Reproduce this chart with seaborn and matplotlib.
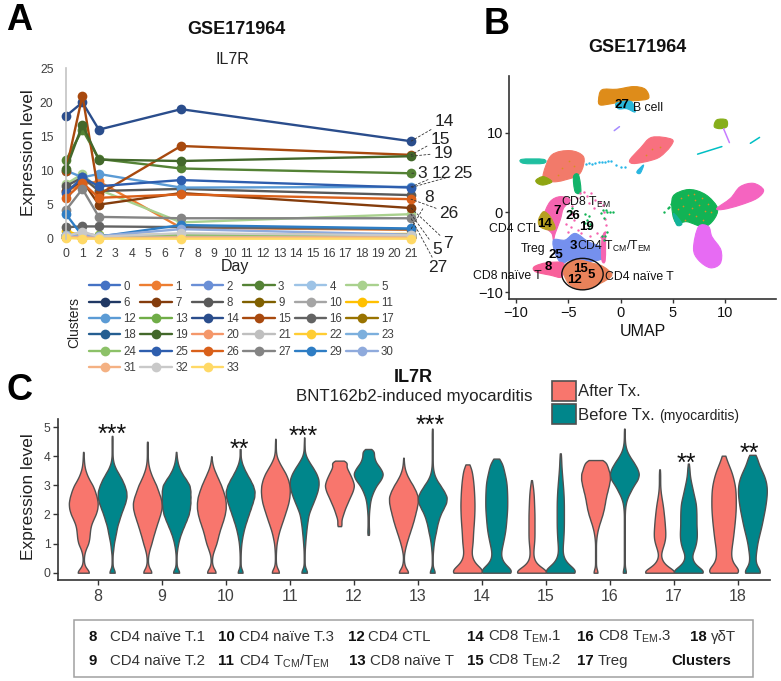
import numpy as np
import pandas as pd
import matplotlib
matplotlib.use("Agg")
import matplotlib.pyplot as plt
from matplotlib.patches import Ellipse, Patch, PathPatch
from matplotlib.path import Path
import seaborn as sns

sns.set_style("ticks")
plt.rcParams["font.family"] = ["Liberation Sans", "DejaVu Sans"]
plt.rcParams["mathtext.default"] = "regular"

W, H = 781, 681
GREY = "#404040"

# ---------- Panel A data ----------
days = [0, 1, 2, 7, 21]
il7r_0 = [0.4, 0.2, 0.3, 0.4, 0.4]
il7r_1 = [7.0, 8.0, 8.4, 1.6, 1.3]
il7r_2 = [0.3, 0.2, 0.2, 0.3, 0.3]
il7r_3 = [11.5, 16.0, 11.7, 10.3, 9.6]
il7r_4 = [0.3, 0.3, 0.2, 0.4, 0.4]
il7r_5 = [8.0, 9.5, 7.2, 2.4, 3.6]
il7r_6 = [0.2, 0.2, 0.2, 0.2, 0.2]
il7r_7 = [7.0, 8.5, 5.0, 6.7, 4.5]
il7r_8 = [7.7, 9.0, 7.0, 7.3, 6.4]
il7r_9 = [0.2, 0.1, 0.2, 0.2, 0.2]
il7r_10 = [0.5, 0.9, 0.4, 0.5, 0.5]
il7r_11 = [1.2, 0.3, 0.5, 0.6, 0.7]
il7r_12 = [10.0, 9.0, 9.5, 7.5, 7.6]
il7r_13 = [0.5, 0.3, 0.5, 0.5, 0.5]
il7r_14 = [18.0, 20.0, 16.0, 19.0, 14.3]
il7r_15 = [10.0, 21.0, 6.5, 13.6, 12.3]
il7r_16 = [1.7, 1.8, 1.8, 1.7, 1.4]
il7r_17 = [0.2, 0.2, 0.2, 0.2, 0.2]
il7r_18 = [0.3, 0.2, 0.2, 0.3, 0.3]
il7r_19 = [10.2, 16.7, 11.6, 11.4, 12.1]
il7r_20 = [0.2, 0.1, 0.1, 0.2, 0.2]
il7r_21 = [0.4, 0.3, 0.3, 0.5, 0.5]
il7r_22 = [0.3, 0.1, 0.2, 0.3, 0.3]
il7r_23 = [0.2, 0.2, 0.2, 0.3, 0.3]
il7r_24 = [0.6, 0.3, 0.4, 0.6, 0.5]
il7r_25 = [6.7, 9.0, 7.7, 8.6, 7.5]
il7r_26 = [6.0, 8.2, 6.0, 6.5, 5.8]
il7r_27 = [4.2, 7.3, 3.2, 3.0, 3.0]
il7r_29 = [3.6, 0.4, 0.3, 2.0, 1.5]
il7r_30 = [0.5, 0.4, 0.4, 1.4, 0.6]
il7r_31 = [0.2, 0.2, 0.1, 0.2, 0.2]
il7r_32 = [0.4, 1.0, 0.3, 0.8, 0.5]
il7r_33 = [0.1, 0.0, 0.0, 0.0, 0.0]

cluster_names = [str(i) for i in range(28)] + ["29", "30", "31", "32", "33"]
cluster_values = [il7r_0, il7r_1, il7r_2, il7r_3, il7r_4, il7r_5, il7r_6, il7r_7, il7r_8,
                  il7r_9, il7r_10, il7r_11, il7r_12, il7r_13, il7r_14, il7r_15, il7r_16,
                  il7r_17, il7r_18, il7r_19, il7r_20, il7r_21, il7r_22, il7r_23, il7r_24,
                  il7r_25, il7r_26, il7r_27, il7r_29, il7r_30, il7r_31, il7r_32, il7r_33]
cluster_colors = ["#4472C4", "#ED7D31", "#6A8FD6", "#548235", "#9DC3E6", "#A9D18E",
                  "#203864", "#843C0C", "#595959", "#7F6000", "#A5A5A5", "#FFC000",
                  "#5B9BD5", "#70AD47", "#2A4D8C", "#A8490E", "#636363", "#997300",
                  "#255E91", "#43682B", "#F4976A", "#BFBFBF", "#FFCD33", "#7CAFDD",
                  "#8CC168", "#2E5EAE", "#D9601A", "#848484", "#2E7DC4", "#8FAADC",
                  "#F4B183", "#C9C9C9", "#FFD966"]
day_ticks = list(range(22))

# reading order of the key, listed column by column
legend_order = ["0", "6", "12", "18", "24", "31",
                "1", "7", "13", "19", "25", "32",
                "2", "8", "14", "20", "26", "33",
                "3", "9", "15", "21", "27",
                "4", "10", "16", "22", "29",
                "5", "11", "17", "23", "30"]

end_labels = ["14", "15", "19", "3", "12", "25", "8", "26", "7", "5", "27"]
end_cluster = ["14", "15", "19", "3", "12", "25", "16", "26", "7", "5", "27"]
end_label_px = [(444, 122), (440, 139), (443, 153), (422, 173), (441, 174), (463, 173),
                (429, 198), (449, 213), (448, 243), (437, 250), (438, 268)]

# ---------- Panel B data ----------
b_cell_x = [-2.1, -1.78, -0.35, 1.24, 2.36, 2.68, 1.56, 0.29, -0.99, -1.94]
b_cell_y = [14.1, 15.36, 15.44, 15.77, 15.44, 14.31, 14.02, 13.9, 13.6, 13.47]
b_under_x = [-0.4, 1.0, 1.4, 0.6, -0.2]
b_under_y = [13.7, 13.9, 12.6, 13.0, 13.0]
olive_top_x = [8.95, 9.2, 10.1, 10.16, 9.5]
olive_top_y = [10.75, 11.6, 11.6, 10.75, 10.5]
mid_salmon_x = [0.92, 1.88, 2.99, 4.9, 4.75, 3.79, 2.83, 1.56, 0.99]
mid_salmon_y = [6.65, 8.03, 9.41, 9.16, 8.24, 6.99, 6.49, 6.15, 6.19]
mid_cyan_x = [1.56, 2.2, 1.88]
mid_cyan_y = [5.1, 5.94, 4.9]
left_salmon_x = [-7.36, -6.56, -4.81, -3.54, -3.69, -4.33, -6.08, -7.2]
left_salmon_y = [4.9, 7.2, 7.74, 6.99, 5.31, 4.48, 3.85, 4.06]
strip_x = [-9.43, -7.36, -7.36, -9.27]
strip_y = [6.65, 6.65, 6.15, 6.15]
left_olive_x = [-8.06, -7.36, -6.56, -7.36, -7.93]
left_olive_y = [4.06, 4.48, 3.85, 3.43, 3.64]
left_stem_x = [-4.49, -4.01, -3.79, -4.33]
left_stem_y = [4.48, 4.69, 2.59, 2.59]
green_x = [5.0, 6.17, 7.28, 8.39, 9.27, 8.88, 7.93, 6.34, 5.38, 4.97]
green_y = [1.97, 2.8, 2.72, 1.97, 0.5, -0.96, -1.8, -1.17, -1.38, -0.13]
green_teal_x = [5.06, 5.86, 5.38]
green_teal_y = [-0.13, -1.38, -1.59]
right_pink_x = [9.2, 10.5, 11.43, 12.7, 13.66, 13.03, 11.43, 9.84]
right_pink_y = [0.5, 1.76, 3.22, 3.64, 2.8, 1.76, 0.92, 0.38]
magenta_x = [7.45, 8.41, 8.73, 9.59, 9.52, 8.57, 7.45, 6.97]
magenta_y = [-1.8, -1.8, -3.05, -4.73, -6.4, -6.95, -5.98, -4.52]
crescent_x = [-7.36, -6.72, -5.76, -4.81, -5.45, -5.76, -6.24, -6.4, -6.56, -7.2]
crescent_y = [-0.54, 1.34, 1.97, 1.55, 0.5, -0.96, -2.64, -3.47, -2.64, -1.8]
ctl_x = [-7.83, -7.36, -6.72, -6.24, -6.88, -7.67]
ctl_y = [-0.96, 0.08, -0.54, -2.0, -2.2, -1.8]
tcm_x = [-6.4, -5.29, -4.33, -3.06, -1.62, -1.69, -3.22, -4.81, -5.6, -6.24]
tcm_y = [-3.47, -3.47, -2.64, -3.68, -4.52, -5.77, -6.19, -5.98, -6.4, -5.15]
ring_x = [-1.78, -1.46, -1.46, -1.78]
ring_y = [-3.47, -2.64, -5.98, -5.98]
naive8_x = [-8.25, -7.04, -5.45, -5.6, -6.72, -8.1]
naive8_y = [-6.82, -6.32, -6.4, -8.08, -7.87, -7.45]
naive4_x = [-5.45, -4.17, -2.58, -1.62, -0.83, -1.94, -3.54, -4.97]
naive4_y = [-6.82, -5.98, -6.4, -6.82, -7.87, -8.91, -9.67, -8.91]

blob_x = [b_cell_x, b_under_x, olive_top_x, mid_salmon_x, mid_cyan_x, left_salmon_x, strip_x,
          left_olive_x, left_stem_x, green_x, green_teal_x, right_pink_x, magenta_x, crescent_x,
          ctl_x, tcm_x, ring_x, naive8_x, naive4_x]
blob_y = [b_cell_y, b_under_y, olive_top_y, mid_salmon_y, mid_cyan_y, left_salmon_y, strip_y,
          left_olive_y, left_stem_y, green_y, green_teal_y, right_pink_y, magenta_y, crescent_y,
          ctl_y, tcm_y, ring_y, naive8_y, naive4_y]
blob_colors = ["#DE8C1A", "#29B6D8", "#86AE1A", "#F8707F", "#29B6E0", "#F27A6A", "#1FBFA0",
               "#8FA512", "#12B36A", "#12B355", "#12B39A", "#F564C0", "#E76BF3", "#F564B0",
               "#B79F20", "#7590EE", "#F564B0", "#F8609A", "#E9825A"]

thread_x = [[9.84, 10.4], [-0.6, -0.1], [7.36, 9.68], [12.4, 13.28]]
thread_y = [[10.5, 8.75], [10.25, 10.75], [7.3, 8.25], [8.66, 9.4]]
thread_colors = ["#C77CFF", "#A58AFF", "#00BFC4", "#00BFC4"]

pink_specks_x = [-5, -4.6, -4.2, -3.9, -3.5, -3.2, -2.8, -2.4, -2, -1.7, -1.6, -1.5, -1.4, -1.5,
                 -4.6, -4.4, -4.7, -4.1, -3.8, -2.9, -2.2, -1.9, -5.2, -5.0, -3.0, -2.5]
pink_specks_y = [1.2, 0.8, 1.8, 2.4, 2.6, 2.0, 2.4, 1.6, 1.3, 0.9, 0.1, -0.8, -1.6, -2.4,
                 -0.2, -1, -1.8, -2.2, -2.6, -2.9, -2.6, -3.1, -1.5, -2.4, 1.2, 0.6]
green_specks_x = [-1.6, -1.8, -1.3, -1.5, -1.7, -1.3, -1, -0.7, -1.9, -1.6, -3, -3.2, -3.4, -2.9,
                  -3.0, -3.4, -1.4, 4.5, 4.2, 4.8, 5.1, 4.6, -4.6, -4.8]
green_specks_y = [-3.5, -2.9, -2.5, -3, 0.3, 0.1, 0.1, 0, -0.1, -0.7, -0.4, -0.9, -1.3, -1.4,
                  -1.9, -0.2, 0.3, 0.5, 0.1, 1.0, 1.5, 0.7, 0.6, 0.2]
cyan_specks_x = [-3.3, -3, -2.7, -2.4, -2.1, -1.8, -1.5, -1.2, -0.9, -0.4, 0, 0.4]
cyan_specks_y = [6.1, 6.2, 6.1, 6.2, 6.3, 6.3, 6.3, 6.4, 6.4, 5.9, 5.7, 5.7]
orange_specks_x = [5.8, 6.4, 7.1, 7.8, 8.4, 6.0, 6.8, 7.5, 8.1, 6.5, 7.2, 7.9, 5.5, 7.0, 8.6, 6.2,
                   3.0, 2.4, 3.8, -5.6, -4.9, -4.4, -6.0]
orange_specks_y = [1.8, 2.2, 1.5, 1.8, 1.0, 0.8, 0.6, 0.9, 0.2, -0.2, -0.5, -0.9, 0.4, 2.3, 0.0, -0.9,
                   7.9, 7.2, 8.2, 5.6, 6.4, 5.8, 4.7]

umap_labels = ["27", "7", "26", "14", "19", "3", "25", "8", "15", "5", "12"]
umap_label_px = [(622, 105), (557, 211), (573, 216), (545, 224), (586, 227), (573, 246),
                 (556, 255), (548, 267), (580, 269), (591, 275), (574, 280)]
cell_labels = ["B cell", "CD8 T$_{EM}$", "CD4 CTL", "CD4 T$_{CM}$/T$_{EM}$", "Treg",
               "CD8 naïve T", "CD4 naïve T"]
cell_label_px = [(648, 108), (586, 202), (514, 229), (614, 246), (533, 249), (507, 276), (639, 277)]

# ---------- Panel C data (counts of cells at each expression level) ----------
levels = np.arange(0, 5.0, 0.2)
levels_after_12 = np.arange(1.6, 3.85, 0.1)
levels_before_12 = np.arange(1.3, 4.25, 0.1)
vio_clusters = ["8", "9", "10", "11", "12", "13", "14", "15", "16", "17", "18"]
after_8 = [55, 10, 3, 5, 15, 35, 42, 45, 50, 65, 85, 97, 100, 92, 80, 65, 40, 22, 10, 5, 3]
before_8 = [25, 3, 3, 3, 8, 12, 20, 28, 35, 48, 60, 75, 90, 100, 98, 85, 68, 45, 22, 8, 3, 3, 3, 3]
after_9 = [38, 8, 3, 6, 15, 28, 38, 50, 62, 75, 88, 98, 100, 90, 75, 62, 42, 25, 12, 5, 3, 3, 3]
before_9 = [28, 4, 3, 3, 7, 14, 24, 38, 55, 72, 88, 96, 100, 100, 100, 95, 70, 42, 22, 10, 4]
after_10 = [40, 9, 3, 7, 20, 35, 45, 55, 68, 82, 93, 100, 100, 95, 82, 68, 50, 32, 15, 5]
before_10 = [22, 3, 3, 3, 5, 8, 14, 22, 32, 45, 58, 72, 85, 97, 100, 88, 68, 45, 25, 10, 3, 3]
after_11 = [35, 6, 3, 3, 5, 8, 16, 25, 38, 52, 65, 78, 90, 97, 100, 98, 88, 72, 48, 25, 8, 3, 3]
before_11 = [28, 3, 3, 3, 4, 7, 10, 14, 18, 24, 30, 45, 62, 78, 92, 100, 100, 85, 62, 35, 12, 3, 3]
after_12 = [15, 14, 13, 18, 25, 31, 38, 46, 55, 63, 72, 81, 90, 95, 100, 94, 88, 79, 70, 60, 50, 45, 60]
before_12 = [5, 6, 5, 4, 4, 4, 4, 5, 6, 8, 10, 12, 16, 20, 28, 35, 45, 55, 70, 85, 93, 100, 90, 80,
             65, 50, 44, 38, 38, 40]
after_13 = [42, 10, 3, 3, 10, 20, 32, 45, 58, 70, 80, 90, 98, 100, 85, 65, 40, 20, 8, 3]
before_13 = [22, 3, 3, 3, 6, 10, 16, 25, 32, 42, 55, 75, 95, 100, 80, 55, 28, 12, 5, 3, 3, 3, 3, 3, 3]
after_14 = [100, 43, 25, 16, 18, 22, 23, 24, 26, 28, 29, 30, 30, 29, 28, 26, 24, 20, 17]
before_14 = [100, 45, 25, 18, 22, 28, 33, 38, 41, 43, 45, 47, 47, 47, 46, 45, 42, 36, 30, 26]
after_15 = [100, 38, 14, 8, 9, 12, 14, 14, 14, 14, 14, 13, 12, 11, 9, 6]
before_15 = [100, 42, 20, 10, 9, 11, 13, 14, 15, 15, 15, 15, 15, 14, 13, 11, 9, 7, 5, 4, 3]
after_16 = [18, 3, 3, 3, 3, 3, 6, 12, 22, 35, 48, 58, 65, 72, 82, 92, 100, 100, 85, 75]
before_16 = [14, 3, 3, 3, 3, 3, 3, 3, 3, 3, 3, 5, 10, 22, 42, 62, 90, 100, 85, 62, 35, 15, 6, 3, 3]
after_17 = [100, 38, 13, 5, 12, 22, 28, 28, 26, 24, 21, 18, 14, 9, 5, 3, 3, 3]
before_17 = [100, 42, 20, 15, 28, 36, 40, 40, 38, 38, 38, 37, 35, 28, 22, 16, 10, 6, 5]
after_18 = [100, 55, 38, 34, 36, 40, 44, 47, 50, 53, 55, 57, 57, 57, 56, 53, 47, 40, 30, 18, 8]
before_18 = [80, 30, 20, 22, 28, 33, 42, 52, 62, 70, 78, 86, 92, 97, 100, 98, 90, 75, 55, 38, 30]

after_ends = [[4.15], [4.5], [4.0], [4.6], [3.85], [3.95], [3.72], [3.18], [3.87], [3.55], [4.02]]
before_ends = [[4.7], [4.15], [4.25], [4.65], [4.25], [4.95], [3.92], [4.1], [4.95], [3.75], [4.05]]
after_counts = [after_8, after_9, after_10, after_11, after_12, after_13, after_14, after_15,
                after_16, after_17, after_18]
before_counts = [before_8, before_9, before_10, before_11, before_12, before_13, before_14,
                 before_15, before_16, before_17, before_18]
groups = ["After Tx.", "Before Tx."]
group_colors = ["#F8766D", "#00868B"]

star_text = ["***", "**", "***", "***", "**", "**"]
star_pos = [0.22, 2.21, 3.21, 5.2, 9.19, 10.18]
star_lev = [4.96, 4.47, 4.9, 5.27, 3.99, 4.31]

tbl_row1 = [(88.3, "8", True), (109.7, "CD4 naïve T.1", False), (217.7, "10", True),
            (239, "CD4 naïve T.3", False), (347.7, "12", True), (368, "CD4 CTL", False),
            (467.3, "14", True), (488, "CD8 T$_{EM}$.1", False), (577, "16", True),
            (598, "CD8 T$_{EM}$.3", False), (690, "18", True), (711, "γδT", False)]
tbl_row2 = [(88.3, "9", True), (109.7, "CD4 naïve T.2", False), (217.7, "11", True),
            (239, "CD4 T$_{CM}$/T$_{EM}$", False), (348.5, "13", True), (370, "CD8 naïve T", False),
            (467.3, "15", True), (488, "CD8 T$_{EM}$.2", False), (577, "17", True),
            (598, "Treg", False), (671, "Clusters", True)]


def box(l, t, r, b):
    return [l / W, 1 - b / H, (r - l) / W, (b - t) / H]


def ftext(x, y, s, **kw):
    kw.setdefault("ha", "center")
    kw.setdefault("va", "center")
    fig.text(x / W, 1 - y / H, s, **kw)


def smooth_blob(xs, ys):
    v = np.column_stack([xs, ys])
    n = len(v)
    verts, codes = [v[0]], [Path.MOVETO]
    for i in range(n):
        p0, p1, p2, p3 = v[i - 1], v[i], v[(i + 1) % n], v[(i + 2) % n]
        verts += [p1 + (p2 - p0) / 6, p2 - (p3 - p1) / 6, p2]
        codes += [Path.CURVE4] * 3
    return Path(verts, codes)


fig = plt.figure(figsize=(W / 100, H / 100), dpi=100)

# ---------- Panel A ----------
axA = fig.add_axes(box(66, 68.3, 411, 238.7))
dfA = pd.DataFrame({
    "day": np.tile(days, len(cluster_names)),
    "expr": np.concatenate(cluster_values),
    "cluster": np.repeat(cluster_names, len(days)),
})
sns.lineplot(data=dfA, x="day", y="expr", hue="cluster", hue_order=cluster_names,
             palette=cluster_colors, marker="o", markersize=7, markeredgewidth=0,
             linewidth=1.7, legend="full", ax=axA, errorbar=None)
for ln in axA.lines:
    ln.set_clip_on(False)
axA.set_xlim(0, 21)
axA.set_ylim(0, 25)
axA.set_xticks(day_ticks)
axA.set_yticks([0, 5, 10, 15, 20, 25])
axA.tick_params(length=0, labelsize=8.8, labelcolor=GREY, pad=7)
axA.tick_params(axis="y", pad=9)
for side in ["top", "right", "bottom"]:
    axA.spines[side].set_visible(False)
axA.spines["left"].set_color("#C4C4C4")
axA.spines["left"].set_linewidth(1.2)
axA.set_xlabel("")
axA.set_ylabel("")
handles, labels = axA.get_legend_handles_labels()
by_label = dict(zip(labels, handles))
axA.legend([by_label[k] for k in legend_order], legend_order, ncols=6, loc="upper left",
           bbox_to_anchor=(89 / W, 1 - 280.5 / H), bbox_transform=fig.transFigure, frameon=False,
           fontsize=8.3, handlelength=2.7, handletextpad=0.3, columnspacing=0.35, labelspacing=0.37,
           borderpad=0, borderaxespad=0, labelcolor=GREY)
for lab, cl, (px, py) in zip(end_labels, end_cluster, end_label_px):
    val = cluster_values[cluster_names.index(cl)][-1]
    axA.annotate(lab, xy=(21, val), xycoords="data", xytext=(px, H - py),
                 textcoords="figure pixels", ha="center", va="center", fontsize=12.5,
                 color="#222222", annotation_clip=False,
                 arrowprops=dict(arrowstyle="-", linestyle=(0, (2.5, 2.5)), linewidth=0.6,
                                 color="#333333", shrinkA=0, shrinkB=0))
ftext(28, 153, "Expression level", rotation=90, fontsize=12.5, color="#222222")
ftext(235, 267, "Day", fontsize=11.5, color="#222222")
ftext(74, 322, "Clusters", rotation=90, fontsize=10, color="#222222")
ftext(236, 30, "GSE171964", fontsize=13, fontweight="bold", color="#111111")
ftext(232, 59, "IL7R", fontsize=11.5, color="#222222")
ftext(19, 21, "A", fontsize=26, fontweight="bold", color="black")

# ---------- Panel B ----------
axB = fig.add_axes(box(509, 76, 776, 299.3))
for xs, ys, col in zip(blob_x, blob_y, blob_colors):
    axB.add_patch(PathPatch(smooth_blob(xs, ys), facecolor=col, edgecolor=col, lw=0.8, joinstyle="round"))
for xs, ys, col in zip(thread_x, thread_y, thread_colors):
    axB.plot(xs, ys, color=col, lw=1.1)
for xs, ys, col, size in [(pink_specks_x, pink_specks_y, "#F564B0", 3), (green_specks_x, green_specks_y, "#12B355", 3),
                          (cyan_specks_x, cyan_specks_y, "#29B6E8", 3), (orange_specks_x, orange_specks_y, "#D89020", 1.5)]:
    sns.scatterplot(x=xs, y=ys, color=col, s=size, linewidth=0, ax=axB)
axB.add_patch(Ellipse((-3.63, -7.74), 3.95, 3.95, fill=False, ec="#111111", lw=1.0))
axB.set_xlim(-10.65, 14.85)
axB.set_ylim(-10.9, 17.1)
axB.set_xticks([-10, -5, 0, 5, 10])
axB.set_yticks([-10, 0, 10])
axB.tick_params(length=3, width=1, color="#333333", labelsize=10.5, labelcolor="#111111", pad=1.5)
sns.despine(ax=axB)
axB.spines["left"].set_color("#333333")
axB.spines["bottom"].set_color("#333333")
axB.spines["left"].set_linewidth(1.2)
axB.spines["bottom"].set_linewidth(1.2)
for lab, (px, py) in zip(umap_labels, umap_label_px):
    ftext(px, py, lab, fontsize=9.5, fontweight="bold", color="black")
for lab, (px, py) in zip(cell_labels, cell_label_px):
    ftext(px, py, lab, fontsize=8.8, color="#111111")
ftext(643, 332, "UMAP", fontsize=11.5, color="#111111")
ftext(637, 48, "GSE171964", fontsize=13, fontweight="bold", color="#111111")
ftext(497, 24, "B", fontsize=26, fontweight="bold", color="black")

# ---------- Panel C ----------
axC = fig.add_axes(box(58.3, 419, 770, 580))
rows = []
for cl, a_cnt, b_cnt, a_end, b_end in zip(vio_clusters, after_counts, before_counts, after_ends, before_ends):
    a_lev = levels_after_12 if cl == "12" else levels
    b_lev = levels_before_12 if cl == "12" else levels
    for grp, cnt, ends, lev in ((groups[0], a_cnt, a_end, a_lev), (groups[1], b_cnt, b_end, b_lev)):
        vals = np.r_[np.repeat(lev[:len(cnt)], cnt), ends]
        rows.append(pd.DataFrame({"cluster": cl, "group": grp, "value": vals}))
dfC = pd.concat(rows, ignore_index=True)
sns.violinplot(data=dfC, x="cluster", y="value", hue="group", order=vio_clusters, hue_order=groups,
               palette=group_colors, cut=0, inner=None, density_norm="width", bw_method=0.14,
               linewidth=1.0, linecolor="#505050", saturation=1, width=0.9, gap=0, legend=False, ax=axC)
axC.set_xlim(-0.615, 10.5)
axC.set_ylim(-0.25, 5.28)
axC.set_yticks([0, 1, 2, 3, 4, 5])
axC.tick_params(axis="y", length=3.5, width=1, color="#333333", labelsize=8.8, labelcolor=GREY, pad=2)
axC.tick_params(axis="x", length=3.5, width=1, color="#333333", labelsize=11.5, labelcolor=GREY, pad=3)
sns.despine(ax=axC)
for side in ("left", "bottom"):
    axC.spines[side].set_color("#333333")
    axC.spines[side].set_linewidth(1.2)
axC.set_xlabel("")
axC.set_ylabel("")
for txt, xp, yl in zip(star_text, star_pos, star_lev):
    axC.text(xp, yl - 0.24, txt, ha="center", va="center", fontsize=18, color="#111111", clip_on=False)
ftext(28.5, 497, "Expression level", rotation=90, fontsize=12.5, color="#222222")
ftext(413, 378, "IL7R", fontsize=13, fontweight="bold", color="#111111")
ftext(414, 397, "BNT162b2-induced myocarditis", fontsize=12.2, color="#222222")
ftext(20, 390, "C", fontsize=26, fontweight="bold", color="black")
leg_handles = [Patch(facecolor=c, edgecolor="#505050", linewidth=1.2) for c in group_colors]
axC.legend(leg_handles, groups, loc="upper left", bbox_to_anchor=(552 / W, 1 - 381 / H),
           bbox_transform=fig.transFigure, frameon=False, fontsize=12, handlelength=1.45,
           handleheight=1.45, handletextpad=0.08, labelspacing=0.22, borderpad=0, borderaxespad=0)
ftext(659, 416, "(myocarditis)", fontsize=10, color="#222222", ha="left")

# clusters key
axC.add_patch(plt.Rectangle((73.7 / W, 1 - 676.7 / H), 679 / W, 56.7 / H, transform=fig.transFigure,
                            fill=False, ec="#A0A0A0", lw=1.1, clip_on=False))
for yrow, row in ((636.7, tbl_row1), (661, tbl_row2)):
    for px, s, bold in row:
        ftext(px, yrow, s, ha="left", fontsize=10.8, fontweight="bold" if bold else "normal",
              color="#111111" if bold else "#333333")

fig.savefig("out.png", dpi=100)
